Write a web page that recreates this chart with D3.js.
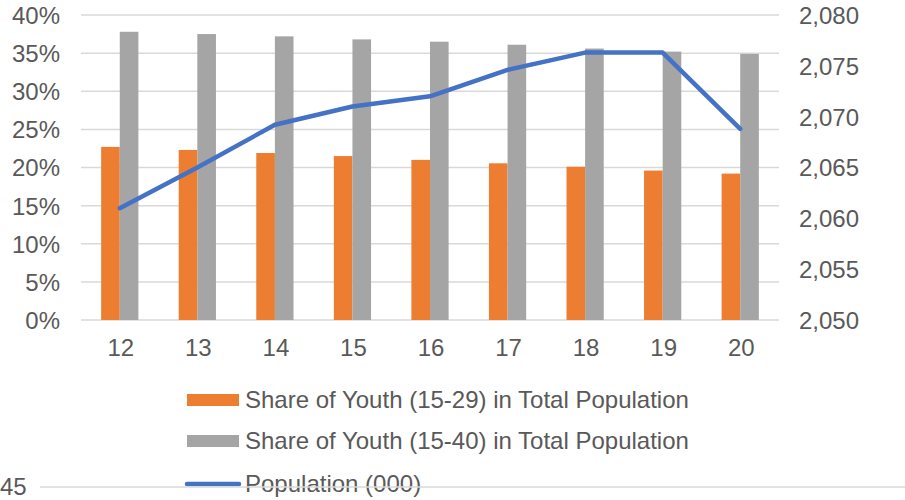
<!DOCTYPE html>
<html>
<head>
<meta charset="utf-8">
<script src="https://cdn.jsdelivr.net/npm/d3@7"></script>
<style>
  html, body { margin: 0; padding: 0; background: #fff; }
  text { font-family: "Liberation Sans", Arial, sans-serif; fill: #595959; }
</style>
</head>
<body>
<svg id="chart" width="905" height="500"></svg>
<script>
const categories = ["12", "13", "14", "15", "16", "17", "18", "19", "20"];
const youth1529 = [0.227, 0.223, 0.219, 0.215, 0.210, 0.2055, 0.201, 0.196, 0.192];
const youth1540 = [0.378, 0.375, 0.372, 0.368, 0.365, 0.361, 0.356, 0.352, 0.349];
const population = [2061.0, 2065.0, 2069.2, 2071.0, 2072.0, 2074.6, 2076.3, 2076.3, 2068.8];
const leftTicks = [0, 0.05, 0.10, 0.15, 0.20, 0.25, 0.30, 0.35, 0.40];
const rightTicks = [2050, 2055, 2060, 2065, 2070, 2075, 2080];
const seriesNames = ["Share of Youth (15-29) in Total Population", "Share of Youth (15-40) in Total Population", "Population (000)"];
const colors = ["#ED7D31", "#A5A5A5", "#4472C4"];

const svg = d3.select("#chart");
const plot = { left: 81, right: 779, top: 15, bottom: 320 };
const FS = 24;

const x = d3.scaleBand().domain(categories).range([plot.left, plot.right]).paddingInner(0.52).paddingOuter(0.26);
const x1 = d3.scaleBand().domain([0, 1]).range([0, x.bandwidth()]);
const yL = d3.scaleLinear().domain([0, 0.40]).range([plot.bottom, plot.top]);
const yR = d3.scaleLinear().domain([2050, 2080]).range([plot.bottom, plot.top]);

// gridlines
svg.append("g").selectAll("line").data(leftTicks).join("line")
  .attr("x1", plot.left).attr("x2", plot.right)
  .attr("y1", d => yL(d)).attr("y2", d => yL(d))
  .attr("stroke", "#D9D9D9").attr("stroke-width", 1.5);

function styleAxis(g) {
  g.select(".domain").remove();
  g.selectAll("text").attr("font-size", FS)
    .style("font-family", "Liberation Sans, Arial, sans-serif")
    .attr("fill", "#595959").attr("dy", "0.35em");
}

// left axis
const axL = d3.axisLeft(yL).tickValues(leftTicks).tickFormat(d3.format(".0%")).tickSize(0).tickPadding(0);
svg.append("g").attr("transform", "translate(60,0)").call(axL).call(styleAxis);

// right axis
const axR = d3.axisRight(yR).tickValues(rightTicks).tickFormat(d3.format(",")).tickSize(0).tickPadding(0);
svg.append("g").attr("transform", "translate(799,0)").call(axR).call(styleAxis);

// x axis
const axX = d3.axisBottom(x).tickSize(0).tickPadding(0);
svg.append("g").attr("transform", "translate(1,348)").call(axX).call(styleAxis);

// bars
const barSeries = [youth1529, youth1540];
barSeries.forEach((vals, si) => {
  svg.append("g").selectAll("rect").data(vals).join("rect")
    .attr("x", (d, i) => x(categories[i]) + x1(si))
    .attr("width", x1.bandwidth())
    .attr("y", d => yL(d))
    .attr("height", d => yL(0) - yL(d))
    .attr("fill", colors[si]);
});

// line
const line = d3.line()
  .x((d, i) => x(categories[i]) + x.bandwidth() / 2)
  .y(d => yR(d));
svg.append("path").datum(population)
  .attr("d", line)
  .attr("fill", "none")
  .attr("stroke", colors[2])
  .attr("stroke-width", 4.5)
  .attr("stroke-linejoin", "round")
  .attr("stroke-linecap", "round");

// legend
const legendRows = [400, 441, 484];
const lg = svg.append("g");
seriesNames.forEach((name, i) => {
  const cy = legendRows[i];
  if (i < 2) {
    lg.append("rect").attr("x", 187).attr("y", cy - 6).attr("width", 52).attr("height", 12).attr("fill", colors[i]);
  } else {
    lg.append("line").attr("x1", 187).attr("x2", 239).attr("y1", cy).attr("y2", cy)
      .attr("stroke", colors[i]).attr("stroke-width", 4.5).attr("stroke-linecap", "round");
  }
  lg.append("text").attr("x", 245).attr("y", cy).attr("dy", "0.35em")
    .attr("font-size", FS).text(name);
});

// remnant of chart below
svg.append("line").attr("x1", 40).attr("x2", 905).attr("y1", 487).attr("y2", 487)
  .attr("stroke", "#D9D9D9").attr("stroke-width", 1.5);
svg.append("text").attr("x", 0).attr("y", 487).attr("dy", "0.35em")
  .attr("font-size", FS).text("45");
</script>
</body>
</html>
